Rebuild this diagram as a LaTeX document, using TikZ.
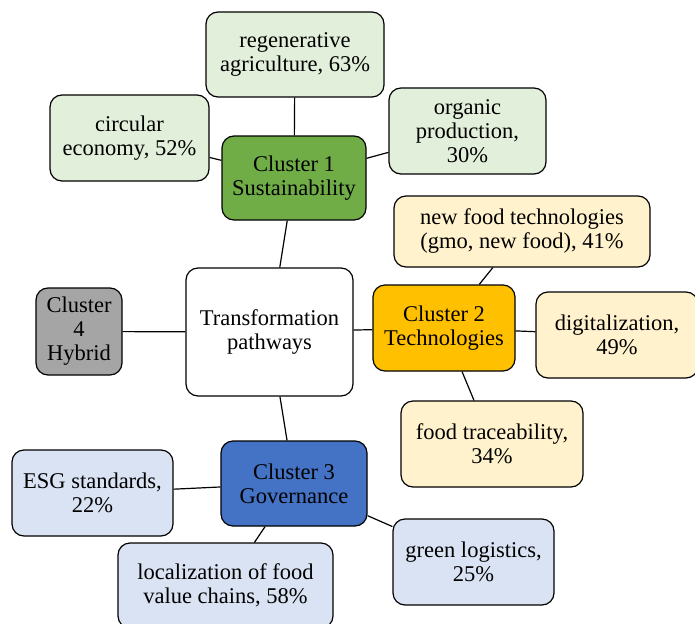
\documentclass[tikz,border=0pt]{standalone}
\usepackage{fontspec}
\setmainfont{Liberation Serif}
\usepackage{xcolor}
\usepackage{tikz}
\usetikzlibrary{positioning}
\definecolor{sustgreen}{HTML}{70AD47}
\definecolor{sustlight}{HTML}{E2EFDA}
\definecolor{techgold}{HTML}{FFC000}
\definecolor{techlight}{HTML}{FFF2CC}
\definecolor{govblue}{HTML}{4472C4}
\definecolor{govlight}{HTML}{DAE3F3}
\definecolor{hybridgray}{HTML}{A5A5A5}
\tikzset{
  box/.style={rectangle, rounded corners=12pt, draw=black, line width=1.2pt, align=center, inner sep=2pt, font=\fontsize{22.5}{24}\selectfont},
  hub/.style={box, fill=white, minimum width=167pt, minimum height=128pt},
  cluster/.style={box, minimum width=144pt, minimum height=84pt},
  leaf/.style={box, minimum width=160pt, minimum height=86pt},
  link/.style={line width=1.2pt}
}

\begin{document}
\begin{tikzpicture}[x=1pt, y=-1pt]
\useasboundingbox (0,0) rectangle (695,623);
% Centre
\node[hub] (hub) at (269.5,332) {Transformation\\pathways};

% Cluster 1 - Sustainability
\node[cluster, fill=sustgreen] (c1) at (294,178) {Cluster 1\\Sustainability};
\node[leaf, fill=sustlight, minimum width=178pt, minimum height=85pt] (regen) at (295,54.5) {regenerative\\agriculture, 63\%};
\node[leaf, fill=sustlight, minimum width=159pt] (circ) at (129.5,138) {circular\\economy, 52\%};
\node[leaf, fill=sustlight, minimum width=157pt] (organic) at (467.5,131) {organic\\production,\\30\%};

% Cluster 2 - Technologies
\node[cluster, fill=techgold, minimum width=142pt, minimum height=86pt] (c2) at (444,328) {Cluster 2\\Technologies};
\node[leaf, fill=techlight, minimum width=256pt, minimum height=71pt] (newfood) at (522,231.5) {new food technologies\\(gmo, new food), 41\%};
\node[leaf, fill=techlight, minimum width=162pt] (digital) at (617,335) {digitalization,\\49\%};
\node[leaf, fill=techlight, minimum width=182pt] (trace) at (492,444) {food traceability,\\34\%};

% Cluster 3 - Governance
\node[cluster, fill=govblue, minimum width=146pt, minimum height=85pt] (c3) at (294,483.5) {Cluster 3\\Governance};
\node[leaf, fill=govlight, minimum width=161pt] (esg) at (92.5,493) {ESG standards,\\22\%};
\node[leaf, fill=govlight, minimum width=215pt, minimum height=85pt] (local) at (225.5,585.5) {localization of food\\value chains, 58\%};
\node[leaf, fill=govlight, minimum width=161pt] (green) at (473.5,562) {green logistics,\\25\%};

% Cluster 4 - Hybrid
\node[cluster, fill=hybridgray, minimum width=86pt, minimum height=87pt] (c4) at (79,331.5) {Cluster\\4\\Hybrid};

% Links
\draw[link] (hub) -- (c1);
\draw[link] (hub) -- (c2);
\draw[link] (hub) -- (c3);
\draw[link] (hub) -- (c4);
\draw[link] (c1) -- (regen);
\draw[link] (c1) -- (circ);
\draw[link] (c1) -- (organic);
\draw[link] (c2) -- (newfood);
\draw[link] (c2) -- (digital);
\draw[link] (c2) -- (trace);
\draw[link] (c3) -- (esg);
\draw[link] (c3) -- (local);
\draw[link] (c3) -- (green);
\end{tikzpicture}
\end{document}
